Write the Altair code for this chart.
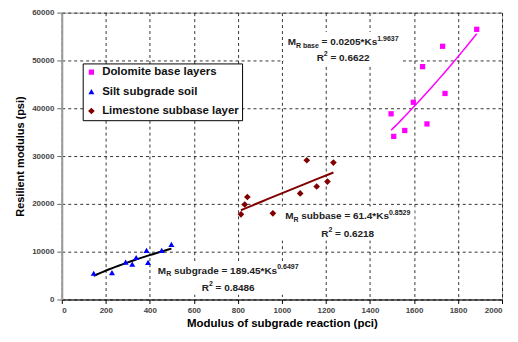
import altair as alt
import pandas as pd

# ---------------- data ----------------
series_names = ["Dolomite base layers", "Silt subgrade soil", "Limestone subbase layer"]

dolomite_k = [1885, 1730, 1639, 1741, 1597, 1496, 1659, 1558, 1508]
dolomite_mr = [56510, 52960, 48700, 43090, 41250, 38840, 36720, 35350, 34110]

silt_k = [145, 228, 290, 320, 338, 385, 392, 454, 498]
silt_mr = [5490, 5610, 7810, 7400, 8780, 10280, 7750, 10280, 11510]

lime_k = [814, 831, 843, 959, 1083, 1113, 1158, 1207, 1234]
lime_mr = [17820, 19870, 21430, 18020, 22190, 29120, 23630, 24660, 28630]

# equation labels: segments of (text, kind)
eq_base = [("M", "n"), ("R base", "sub"), (" = 0.0205*Ks", "n"), ("1.9637", "sup")]
r2_base = [("R", "n"), ("2", "sup"), (" = 0.6622", "n")]
eq_subbase = [("M", "n"), ("R", "sub"), (" subbase = 61.4*Ks", "n"), ("0.8529", "sup")]
r2_subbase = [("R", "n"), ("2", "sup"), (" = 0.6218", "n")]
eq_subgrade = [("M", "n"), ("R", "sub"), (" subgrade = 189.45*Ks", "n"), ("0.6497", "sup")]
r2_subgrade = [("R", "n"), ("2", "sup"), (" = 0.8486", "n")]

# label anchors (centre x, baseline y) in data units
eq_anchor_k = [1278, 1278, 1299, 1299, 756, 756]
eq_anchor_mr = [53219, 49932, 16747, 13151, 5342, 1849]
eq_lines = [eq_base, r2_base, eq_subbase, r2_subbase, eq_subgrade, r2_subgrade]

# ---------------- layout ----------------
PW, PH = 442, 288
XMAX, YMAX = 2000, 60000
FONT = "Liberation Sans"

colors = ["#FF00FF", "#0000FF", "#800000"]
shapes = ["square", "triangle-up", "diamond"]
sizes = [28, 45, 11]

pts = pd.DataFrame({
    "K": dolomite_k + silt_k + lime_k,
    "M": dolomite_mr + silt_mr + lime_mr,
    "series": [series_names[0]] * len(dolomite_k)
    + [series_names[1]] * len(silt_k)
    + [series_names[2]] * len(lime_k),
})

# Arial/Liberation bold advance widths (per 1000 em)
AW = {" ": 278, "(": 333, ")": 333, "*": 389, ".": 278, "=": 584, "K": 722,
      "M": 833, "R": 722, "a": 556, "b": 611, "d": 611, "e": 556, "g": 611,
      "r": 389, "s": 556, "u": 611}
for dch in "0123456789":
    AW[dch] = 556
FS = {"n": 10, "sub": 7, "sup": 7}
SHIFT = {"n": 0, "sub": 2.5, "sup": -4.5}
KX = XMAX / PW
MY = YMAX / PH

rows = []
half_widths = []
for segs, ck, cm in zip(eq_lines, eq_anchor_k, eq_anchor_mr):
    widths = [sum(AW.get(c, 556) for c in t) * FS[k] / 1000 for t, k in segs]
    half_widths.append(sum(widths) / 2)
    x = -sum(widths) / 2
    for (t, k), w in zip(segs, widths):
        lead = len(t) - len(t.lstrip(" "))
        xx = x + lead * AW[" "] * FS[k] / 1000
        rows.append({"K": ck + xx * KX, "M": cm - SHIFT[k] * MY,
                     "t": t.strip(), "kind": k})
        x += w
labels = pd.DataFrame(rows)

# white text boxes behind each equation pair
boxes = []
for i in range(0, len(eq_lines), 2):
    hw = max(half_widths[i], half_widths[i + 1]) + 4
    boxes.append({"K": eq_anchor_k[i] - hw * KX, "K2": eq_anchor_k[i] + hw * KX,
                  "M": eq_anchor_mr[i] + 13 * MY, "M2": eq_anchor_mr[i + 1] - 4 * MY})
boxes = pd.DataFrame(boxes)

x_enc = alt.X("K:Q", scale=alt.Scale(domain=[0, XMAX], nice=False, zero=True),
              axis=alt.Axis(title="Modulus of subgrade reaction (pci)",
                            values=list(range(0, 2001, 200)), format="d",
                            domainColor="black", domainWidth=1,
                            tickColor="black", tickSize=4, labelPadding=3,
                            titlePadding=3, titleFontSize=11.5))
y_enc = alt.Y("M:Q", scale=alt.Scale(domain=[0, YMAX], nice=False),
              axis=alt.Axis(title="Resilient modulus (psi)",
                            values=list(range(0, 60001, 10000)), format="d",
                            domainColor="#999999", domainWidth=2,
                            tickColor="#666666", tickSize=5, labelPadding=3,
                            titlePadding=6, titleFontSize=11))

box_layer = alt.Chart(boxes).mark_rect(color="white").encode(
    x=x_enc, x2="K2:Q", y=y_enc, y2="M2:Q")

points = alt.Chart(pts).mark_point(filled=True, opacity=1, strokeWidth=0).encode(
    x=x_enc, y=y_enc,
    color=alt.Color("series:N", scale=alt.Scale(domain=series_names, range=colors),
                    legend=alt.Legend(title=None, orient="none", legendX=21, legendY=51)),
    shape=alt.Shape("series:N", scale=alt.Scale(domain=series_names, range=shapes)),
    size=alt.Size("series:N", scale=alt.Scale(domain=series_names, range=sizes), legend=None),
)

line_styles = [("#FF00FF", 1.5), ("#000000", 2), ("#800000", 2)]
lines = []
for name, (c, w) in zip(series_names, line_styles):
    lines.append(
        alt.Chart(pts).transform_filter(alt.datum.series == name)
        .transform_regression("K", "M", method="pow")
        .mark_line(color=c, strokeWidth=w)
        .encode(x=x_enc, y=y_enc)
    )

texts = []
for kind in ["n", "sub", "sup"]:
    texts.append(
        alt.Chart(labels).transform_filter(alt.datum.kind == kind)
        .mark_text(align="left", baseline="alphabetic", font=FONT, fontWeight="bold",
                   fontSize=FS[kind], color="#222222")
        .encode(x=x_enc, y=y_enc, text="t:N")
    )

chart = alt.layer(box_layer, *lines, points, *texts).properties(
    width=PW, height=PH,
    autosize=alt.AutoSizeParams(type="none"),
    padding={"left": 54, "top": 4, "right": 8, "bottom": 34},
    background="white",
).configure_view(stroke="#999999", strokeWidth=1).configure_axis(
    grid=True, gridColor="black", gridDash=[3, 3], gridWidth=0.8,
    labelFont=FONT, labelFontWeight="bold", labelFontSize=8, labelColor="#444444",
    titleFont=FONT, titleFontWeight="bold", titleColor="black",
).configure_legend(
    strokeColor="black", fillColor="white", padding=3, cornerRadius=0,
    labelFont=FONT, labelFontWeight="bold", labelFontSize=11.5, labelColor="#111111",
    symbolSize=24, symbolStrokeWidth=0, rowPadding=6.5, labelOffset=5, labelLimit=300,
)

chart.save("out.html", embed_options={"renderer": "svg", "actions": False})
